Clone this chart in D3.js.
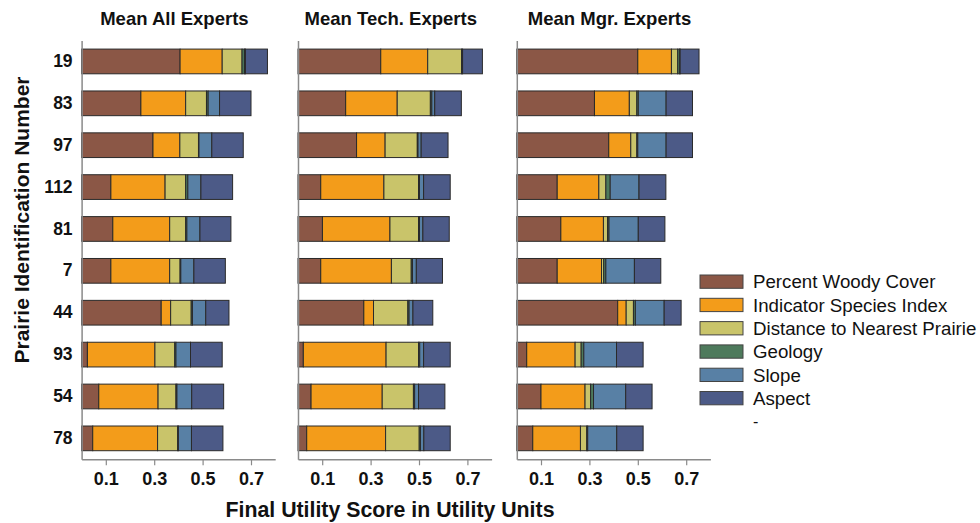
<!DOCTYPE html>
<html>
<head>
<meta charset="utf-8">
<script src="https://cdn.jsdelivr.net/npm/d3@7"></script>
<style>
  html, body { margin: 0; padding: 0; background: #fff; }
  svg { display: block; font-family: "Liberation Sans", Arial, Helvetica, sans-serif; }
</style>
</head>
<body>
<svg id="chart" width="980" height="523"></svg>
<script>
// Prairie sites, top to bottom
const prairies = ["19", "83", "97", "112", "81", "7", "44", "93", "54", "78"];

// Utility criteria (stack order, left to right)
const criteria = ["Percent Woody Cover", "Indicator Species Index", "Distance to Nearest Prairie", "Geology", "Slope", "Aspect"];
const criteriaColors = ["#8b5746", "#f39c1a", "#c9c46a", "#4e7a5c", "#5880a5", "#4c5a87"];

const panelTitles = ["Mean All Experts", "Mean Tech. Experts", "Mean Mgr. Experts"];
const xTicks = [0.1, 0.3, 0.5, 0.7];

// Mean utility contributions — all experts
const woodyAll  = [0.407, 0.245, 0.295, 0.121, 0.129, 0.121, 0.329, 0.024, 0.071, 0.046];
const isiAll    = [0.174, 0.185, 0.111, 0.224, 0.235, 0.243, 0.039, 0.279, 0.245, 0.268];
const distAll   = [0.082, 0.086, 0.077, 0.085, 0.066, 0.043, 0.085, 0.082, 0.074, 0.083];
const geoAll    = [0.010, 0.007, 0.002, 0.009, 0.005, 0.003, 0.005, 0.005, 0.004, 0.003];
const slopeAll  = [0.004, 0.047, 0.053, 0.054, 0.054, 0.054, 0.055, 0.060, 0.061, 0.054];
const aspectAll = [0.091, 0.130, 0.130, 0.131, 0.128, 0.130, 0.096, 0.131, 0.132, 0.130];

// Technical experts
const woodyTech  = [0.342, 0.197, 0.242, 0.094, 0.101, 0.094, 0.272, 0.022, 0.054, 0.036];
const isiTech    = [0.194, 0.213, 0.118, 0.261, 0.279, 0.292, 0.040, 0.342, 0.294, 0.326];
const distTech   = [0.140, 0.137, 0.133, 0.143, 0.118, 0.082, 0.142, 0.134, 0.129, 0.139];
const geoTech    = [0.004, 0.006, 0.003, 0.004, 0.004, 0.005, 0.005, 0.005, 0.005, 0.005];
const slopeTech  = [0.000, 0.012, 0.013, 0.017, 0.014, 0.016, 0.016, 0.016, 0.016, 0.014];
const aspectTech = [0.082, 0.110, 0.111, 0.110, 0.109, 0.108, 0.082, 0.110, 0.109, 0.109];

// Manager experts
const woodyMgr  = [0.500, 0.321, 0.380, 0.167, 0.182, 0.167, 0.417, 0.041, 0.100, 0.066];
const isiMgr    = [0.139, 0.144, 0.091, 0.172, 0.176, 0.183, 0.035, 0.200, 0.182, 0.197];
const distMgr   = [0.026, 0.031, 0.025, 0.029, 0.017, 0.009, 0.030, 0.025, 0.023, 0.026];
const geoMgr    = [0.008, 0.006, 0.004, 0.018, 0.006, 0.009, 0.008, 0.011, 0.012, 0.004];
const slopeMgr  = [0.002, 0.115, 0.117, 0.119, 0.121, 0.118, 0.119, 0.135, 0.133, 0.120];
const aspectMgr = [0.078, 0.109, 0.109, 0.111, 0.110, 0.109, 0.070, 0.110, 0.109, 0.109];

const panelSeries = [
  [woodyAll, isiAll, distAll, geoAll, slopeAll, aspectAll],
  [woodyTech, isiTech, distTech, geoTech, slopeTech, aspectTech],
  [woodyMgr, isiMgr, distMgr, geoMgr, slopeMgr, aspectMgr]
];

const svg = d3.select("#chart");

const panelLeft = [81.6, 298, 516.8];
const panelWidth = 193.6;
const yTop = 40.5, yBottom = 459.3;
const axisColor = "#8a8a8a";

const y = d3.scaleBand()
  .domain(prairies)
  .range([yTop, yBottom])
  .paddingInner(0.41)
  .paddingOuter(0.205);

const color = d3.scaleOrdinal().domain(criteria).range(criteriaColors);

panelSeries.forEach((series, p) => {
  const x = d3.scaleLinear().domain([0, 0.8]).range([panelLeft[p], panelLeft[p] + panelWidth]);

  // table rows: one per prairie, columns per criterion
  const table = prairies.map((id, i) => {
    const row = { id };
    criteria.forEach((c, k) => { row[c] = series[k][i]; });
    return row;
  });
  const stacked = d3.stack().keys(criteria)(table);

  const g = svg.append("g");

  g.selectAll("g.layer")
    .data(stacked)
    .join("g")
    .attr("class", "layer")
    .attr("fill", d => color(d.key))
    .selectAll("rect")
    .data(d => d)
    .join("rect")
    .attr("x", d => x(d[0]))
    .attr("y", d => y(d.data.id))
    .attr("width", d => Math.max(0, x(d[1]) - x(d[0])))
    .attr("height", y.bandwidth())
    .attr("stroke", "#2a2a2a")
    .attr("stroke-width", 1);

  // bottom axis
  const xAxis = g.append("g")
    .attr("transform", `translate(0,${yBottom})`)
    .call(d3.axisBottom(x).tickValues(xTicks).tickFormat(d3.format(".1f")).tickSize(6).tickSizeOuter(0).tickPadding(7));
  xAxis.select(".domain").attr("stroke", axisColor).attr("stroke-width", 1.5);
  xAxis.selectAll(".tick line").attr("stroke", axisColor).attr("stroke-width", 1.2);
  xAxis.selectAll(".tick text")
    .attr("fill", "#111")
    .style("font-size", "18px")
    .style("font-weight", "bold");

  // left axis line (labels only on the first panel)
  const yAxis = g.append("g")
    .attr("transform", `translate(${panelLeft[p]},0)`)
    .call(d3.axisLeft(y).tickSize(0).tickSizeOuter(0).tickPadding(9));
  yAxis.select(".domain").attr("stroke", axisColor).attr("stroke-width", 1.5);
  if (p === 0) {
    yAxis.selectAll(".tick text")
      .attr("fill", "#111")
      .style("font-size", "17.5px")
      .style("font-weight", "bold");
  } else {
    yAxis.selectAll(".tick text").remove();
  }

  // panel title
  svg.append("text")
    .attr("x", panelLeft[p] + panelWidth / 2 - 4)
    .attr("y", 25)
    .attr("text-anchor", "middle")
    .attr("fill", "#111")
    .style("font-size", "18.5px")
    .style("font-weight", "bold")
    .text(panelTitles[p]);
});

// axis titles
svg.append("text")
  .attr("x", 390)
  .attr("y", 517)
  .attr("text-anchor", "middle")
  .attr("fill", "#111")
  .style("font-size", "21.3px")
  .style("font-weight", "bold")
  .text("Final Utility Score in Utility Units");

svg.append("text")
  .attr("transform", "translate(29,220) rotate(-90)")
  .attr("text-anchor", "middle")
  .attr("fill", "#111")
  .style("font-size", "21px")
  .style("font-weight", "bold")
  .text("Prairie Identification Number");

// legend
const legend = svg.append("g").attr("transform", "translate(700,275)");
const legendStep = 23.3;
const items = legend.selectAll("g.item")
  .data(criteria)
  .join("g")
  .attr("class", "item")
  .attr("transform", (d, i) => `translate(0,${i * legendStep})`);
items.append("rect")
  .attr("width", 43)
  .attr("height", 13.3)
  .attr("fill", d => color(d))
  .attr("stroke", "#444")
  .attr("stroke-width", 1);
items.append("text")
  .attr("x", 53)
  .attr("y", 13.3)
  .attr("fill", "#111")
  .style("font-size", "18.7px")
  .text(d => d);
legend.append("text")
  .attr("x", 53)
  .attr("y", criteria.length * legendStep + 12)
  .attr("fill", "#111")
  .style("font-size", "16px")
  .text("-");
</script>
</body>
</html>
